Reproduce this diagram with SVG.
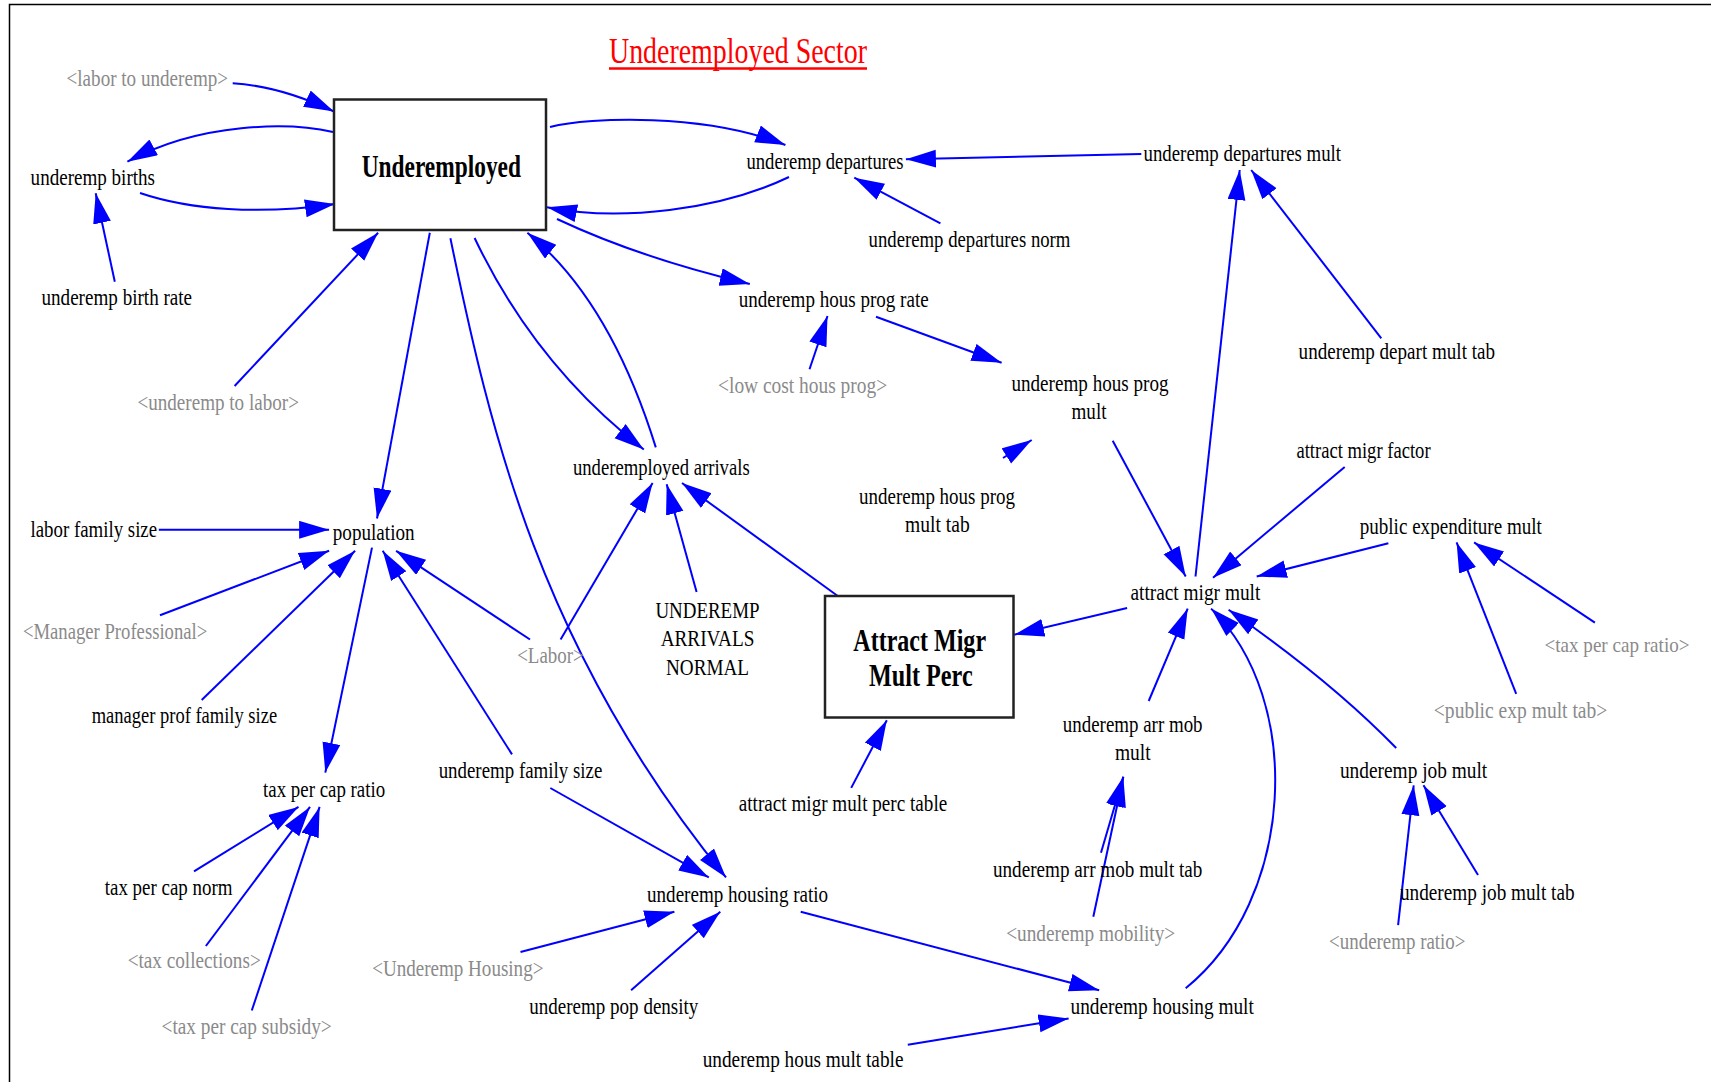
<svg xmlns="http://www.w3.org/2000/svg" width="1711" height="1082" viewBox="0 0 1711 1082">
<style>
text{font-family:"Liberation Serif","Times New Roman",serif;font-size:23px;text-anchor:middle;fill:#000}
text.g{fill:#8a8a8a}
text.b{font-weight:bold;font-size:31px}
text.title{font-size:35px;fill:#f00}
.box{fill:#fff;stroke:#222;stroke-width:2.5}
#connectors path{fill:none;stroke:#0000ff;stroke-width:2;marker-end:url(#ah)}
</style>
<defs>
<marker id="ah" markerUnits="userSpaceOnUse" markerWidth="32" markerHeight="20" refX="30" refY="9" orient="auto">
<path d="M0,0 L30,9 L0,18 z" fill="#0000ff"/>
</marker>
</defs>
<rect width="1711" height="1082" fill="#fff"/>
<path d="M9.5,1082 V4.5 H1711" fill="none" stroke="#000" stroke-width="1.5"/>
<g id="title">
<text class="title" x="738" y="63.3" textLength="258" lengthAdjust="spacingAndGlyphs">Underemployed Sector</text>
<line x1="609" y1="68.5" x2="867" y2="68.5" stroke="#f00" stroke-width="2.5"/>
</g>

<g id="connectors">
<path d="M232.7,83.3 Q280,86 334,111.5"/>
<path d="M333,132 C290,122 200,122 127.4,161.7"/>
<path d="M140,193 C190,210 260,215 335,204"/>
<path d="M114.8,281.7 L95.7,193.3"/>
<path d="M234.6,386 L378.1,232.7"/>
<path d="M550,127 C590,117 705,113 785.4,145"/>
<path d="M789,177 C720,210 620,222 547,207.3"/>
<path d="M1141.3,154 L905.9,159.3"/>
<path d="M940.4,223.3 L854.3,177.7"/>
<path d="M557,219 Q640,258 749.8,284"/>
<path d="M809.5,369.3 L827.5,316"/>
<path d="M876,316.7 L1001.6,362.7"/>
<path d="M1003,458 L1031.7,440"/>
<path d="M1112.7,440.7 L1185.7,576.5"/>
<path d="M1195.5,576.5 L1239.7,170"/>
<path d="M1381.3,338.3 L1251.2,170"/>
<path d="M1344.7,466.9 L1213,577.7"/>
<path d="M1388.4,543.2 L1256.7,576.5"/>
<path d="M1127.1,608 L1014.2,634.7"/>
<path d="M837.8,596 L682,483"/>
<path d="M474.6,238 Q535,365 643.8,449.5"/>
<path d="M655.8,447.4 Q610,300 527.4,232.7"/>
<path d="M696.6,592 L666.7,484.3"/>
<path d="M560.6,639.5 L652.6,483"/>
<path d="M530,639.5 L396.1,550.8"/>
<path d="M429.8,232.7 L377,518.5"/>
<path d="M158.8,529.8 L329.1,529.8"/>
<path d="M160,615.3 L329.1,550.8"/>
<path d="M201.7,700 L355.1,550.8"/>
<path d="M512,754.4 L382.7,550.8"/>
<path d="M372,547.6 L325.3,772.6"/>
<path d="M194,871.4 L298.5,806.9"/>
<path d="M205.9,946 L310,806.9"/>
<path d="M251.8,1010.5 L319.6,806.9"/>
<path d="M450.4,238.3 C490,430 540,650 726,877.4"/>
<path d="M550.3,788 L708.8,877.4"/>
<path d="M520.5,952 L674.4,911.7"/>
<path d="M631.1,990.3 L720.3,911.7"/>
<path d="M800.7,911.7 L1099.2,990.3"/>
<path d="M907.8,1044.8 L1068.6,1018.5"/>
<path d="M1185.7,988.2 C1295,900 1305,700 1211.1,608.6"/>
<path d="M851.2,787.9 L886.8,720.2"/>
<path d="M1148.7,701 L1187.7,608.6"/>
<path d="M1101,852.7 L1123.3,776.7"/>
<path d="M1093.3,916.7 L1123.3,776.7"/>
<path d="M1396.2,748 Q1330,680 1228.6,609.8"/>
<path d="M1516.2,693.8 L1456.6,542.4"/>
<path d="M1594.9,622.7 L1474.1,542.4"/>
<path d="M1398.1,925.1 L1413.7,785.3"/>
<path d="M1478,874.9 L1423.5,785.3"/>
</g>

<g id="node-underemployed">
<rect class="box" x="334" y="99.5" width="212" height="130.5"/>
<text class="b" x="441.3" y="176.5" textLength="159.3" lengthAdjust="spacingAndGlyphs">Underemployed</text>
</g>
<g id="node-attract-migr-mult-perc">
<rect class="box" x="825" y="596" width="188.5" height="121.5"/>
<text class="b" x="919.7" y="650.5" textLength="132.7" lengthAdjust="spacingAndGlyphs">Attract Migr</text>
<text class="b" x="920.8" y="686" textLength="103.7" lengthAdjust="spacingAndGlyphs">Mult Perc</text>
</g>

<g id="node-labor-to-underemp"><text class="g" x="147.3" y="86" textLength="161.5" lengthAdjust="spacingAndGlyphs">&lt;labor to underemp&gt;</text></g>
<g id="node-underemp-births"><text x="92.8" y="185" textLength="124.4" lengthAdjust="spacingAndGlyphs">underemp births</text></g>
<g id="node-underemp-birth-rate"><text x="116.8" y="305" textLength="150.6" lengthAdjust="spacingAndGlyphs">underemp birth rate</text></g>
<g id="node-underemp-to-labor"><text class="g" x="218.2" y="410" textLength="161.5" lengthAdjust="spacingAndGlyphs">&lt;underemp to labor&gt;</text></g>
<g id="node-underemp-departures"><text x="825" y="169" textLength="157.1" lengthAdjust="spacingAndGlyphs">underemp departures</text></g>
<g id="node-underemp-departures-mult"><text x="1242.3" y="161" textLength="197.5" lengthAdjust="spacingAndGlyphs">underemp departures mult</text></g>
<g id="node-underemp-departures-norm"><text x="969.5" y="247" textLength="201.9" lengthAdjust="spacingAndGlyphs">underemp departures norm</text></g>
<g id="node-underemp-hous-prog-rate"><text x="833.7" y="307" textLength="189.9" lengthAdjust="spacingAndGlyphs">underemp hous prog rate</text></g>
<g id="node-low-cost-hous-prog"><text class="g" x="802.6" y="393" textLength="169.1" lengthAdjust="spacingAndGlyphs">&lt;low cost hous prog&gt;</text></g>
<g id="node-underemp-hous-prog-mult">
<text x="1090" y="391" textLength="157.1" lengthAdjust="spacingAndGlyphs">underemp hous prog</text>
<text x="1089" y="419" textLength="35" lengthAdjust="spacingAndGlyphs">mult</text>
</g>
<g id="node-underemp-depart-mult-tab"><text x="1396.8" y="359" textLength="196.4" lengthAdjust="spacingAndGlyphs">underemp depart mult tab</text></g>
<g id="node-attract-migr-factor"><text x="1363.5" y="458" textLength="134.2" lengthAdjust="spacingAndGlyphs">attract migr factor</text></g>
<g id="node-underemployed-arrivals"><text x="661.3" y="475" textLength="176.8" lengthAdjust="spacingAndGlyphs">underemployed arrivals</text></g>
<g id="node-underemp-hous-prog-mult-tab">
<text x="937" y="503.5" textLength="155.8" lengthAdjust="spacingAndGlyphs">underemp hous prog</text>
<text x="937.4" y="532" textLength="64.7" lengthAdjust="spacingAndGlyphs">mult tab</text>
</g>
<g id="node-public-expenditure-mult"><text x="1450.8" y="534" textLength="182.2" lengthAdjust="spacingAndGlyphs">public expenditure mult</text></g>
<g id="node-labor-family-size"><text x="93.8" y="537" textLength="126.6" lengthAdjust="spacingAndGlyphs">labor family size</text></g>
<g id="node-population"><text x="373.7" y="540" textLength="81.8" lengthAdjust="spacingAndGlyphs">population</text></g>
<g id="node-attract-migr-mult"><text x="1195.4" y="600" textLength="129.9" lengthAdjust="spacingAndGlyphs">attract migr mult</text></g>
<g id="node-underemp-arrivals-normal">
<text x="707.5" y="618" textLength="104.1" lengthAdjust="spacingAndGlyphs">UNDEREMP</text>
<text x="707.5" y="646" textLength="93.7" lengthAdjust="spacingAndGlyphs">ARRIVALS</text>
<text x="707.5" y="675" textLength="83" lengthAdjust="spacingAndGlyphs">NORMAL</text>
</g>
<g id="node-manager-professional"><text class="g" x="115.1" y="639" textLength="184.4" lengthAdjust="spacingAndGlyphs">&lt;Manager Professional&gt;</text></g>
<g id="node-tax-per-cap-ratio-ref"><text class="g" x="1617" y="652" style="font-size:22px" textLength="145" lengthAdjust="spacingAndGlyphs">&lt;tax per cap ratio&gt;</text></g>
<g id="node-labor"><text class="g" x="550.5" y="663" textLength="66.6" lengthAdjust="spacingAndGlyphs">&lt;Labor&gt;</text></g>
<g id="node-manager-prof-family-size"><text x="184.4" y="723" textLength="185.5" lengthAdjust="spacingAndGlyphs">manager prof family size</text></g>
<g id="node-public-exp-mult-tab"><text class="g" x="1520.6" y="718" textLength="173.5" lengthAdjust="spacingAndGlyphs">&lt;public exp mult tab&gt;</text></g>
<g id="node-underemp-arr-mob-mult">
<text x="1132.7" y="732" textLength="139.7" lengthAdjust="spacingAndGlyphs">underemp arr mob</text>
<text x="1132.8" y="760" textLength="35.7" lengthAdjust="spacingAndGlyphs">mult</text>
</g>
<g id="node-underemp-job-mult"><text x="1413.6" y="778" textLength="147.3" lengthAdjust="spacingAndGlyphs">underemp job mult</text></g>
<g id="node-underemp-family-size"><text x="520.5" y="778" textLength="163.7" lengthAdjust="spacingAndGlyphs">underemp family size</text></g>
<g id="node-tax-per-cap-ratio"><text x="324.1" y="797" textLength="122.2" lengthAdjust="spacingAndGlyphs">tax per cap ratio</text></g>
<g id="node-attract-migr-mult-perc-table"><text x="843" y="811" textLength="208.4" lengthAdjust="spacingAndGlyphs">attract migr mult perc table</text></g>
<g id="node-underemp-arr-mob-mult-tab"><text x="1097.7" y="877" textLength="209.5" lengthAdjust="spacingAndGlyphs">underemp arr mob mult tab</text></g>
<g id="node-tax-per-cap-norm"><text x="168.6" y="895" textLength="127.7" lengthAdjust="spacingAndGlyphs">tax per cap norm</text></g>
<g id="node-underemp-job-mult-tab"><text x="1487.3" y="900" textLength="174.6" lengthAdjust="spacingAndGlyphs">underemp job mult tab</text></g>
<g id="node-underemp-housing-ratio"><text x="737.6" y="902" textLength="181.1" lengthAdjust="spacingAndGlyphs">underemp housing ratio</text></g>
<g id="node-underemp-mobility"><text class="g" x="1090.7" y="941" textLength="169.1" lengthAdjust="spacingAndGlyphs">&lt;underemp mobility&gt;</text></g>
<g id="node-underemp-ratio"><text class="g" x="1397.3" y="949" textLength="136.4" lengthAdjust="spacingAndGlyphs">&lt;underemp ratio&gt;</text></g>
<g id="node-tax-collections"><text class="g" x="194.2" y="968" textLength="133.1" lengthAdjust="spacingAndGlyphs">&lt;tax collections&gt;</text></g>
<g id="node-underemp-housing"><text class="g" x="457.8" y="976" textLength="171.3" lengthAdjust="spacingAndGlyphs">&lt;Underemp Housing&gt;</text></g>
<g id="node-underemp-pop-density"><text x="613.8" y="1014" textLength="169.1" lengthAdjust="spacingAndGlyphs">underemp pop density</text></g>
<g id="node-underemp-housing-mult"><text x="1162.2" y="1014" textLength="183.3" lengthAdjust="spacingAndGlyphs">underemp housing mult</text></g>
<g id="node-tax-per-cap-subsidy"><text class="g" x="246.6" y="1034" textLength="170.2" lengthAdjust="spacingAndGlyphs">&lt;tax per cap subsidy&gt;</text></g>
<g id="node-underemp-hous-mult-table"><text x="803.1" y="1067" textLength="200.8" lengthAdjust="spacingAndGlyphs">underemp hous mult table</text></g>
</svg>
